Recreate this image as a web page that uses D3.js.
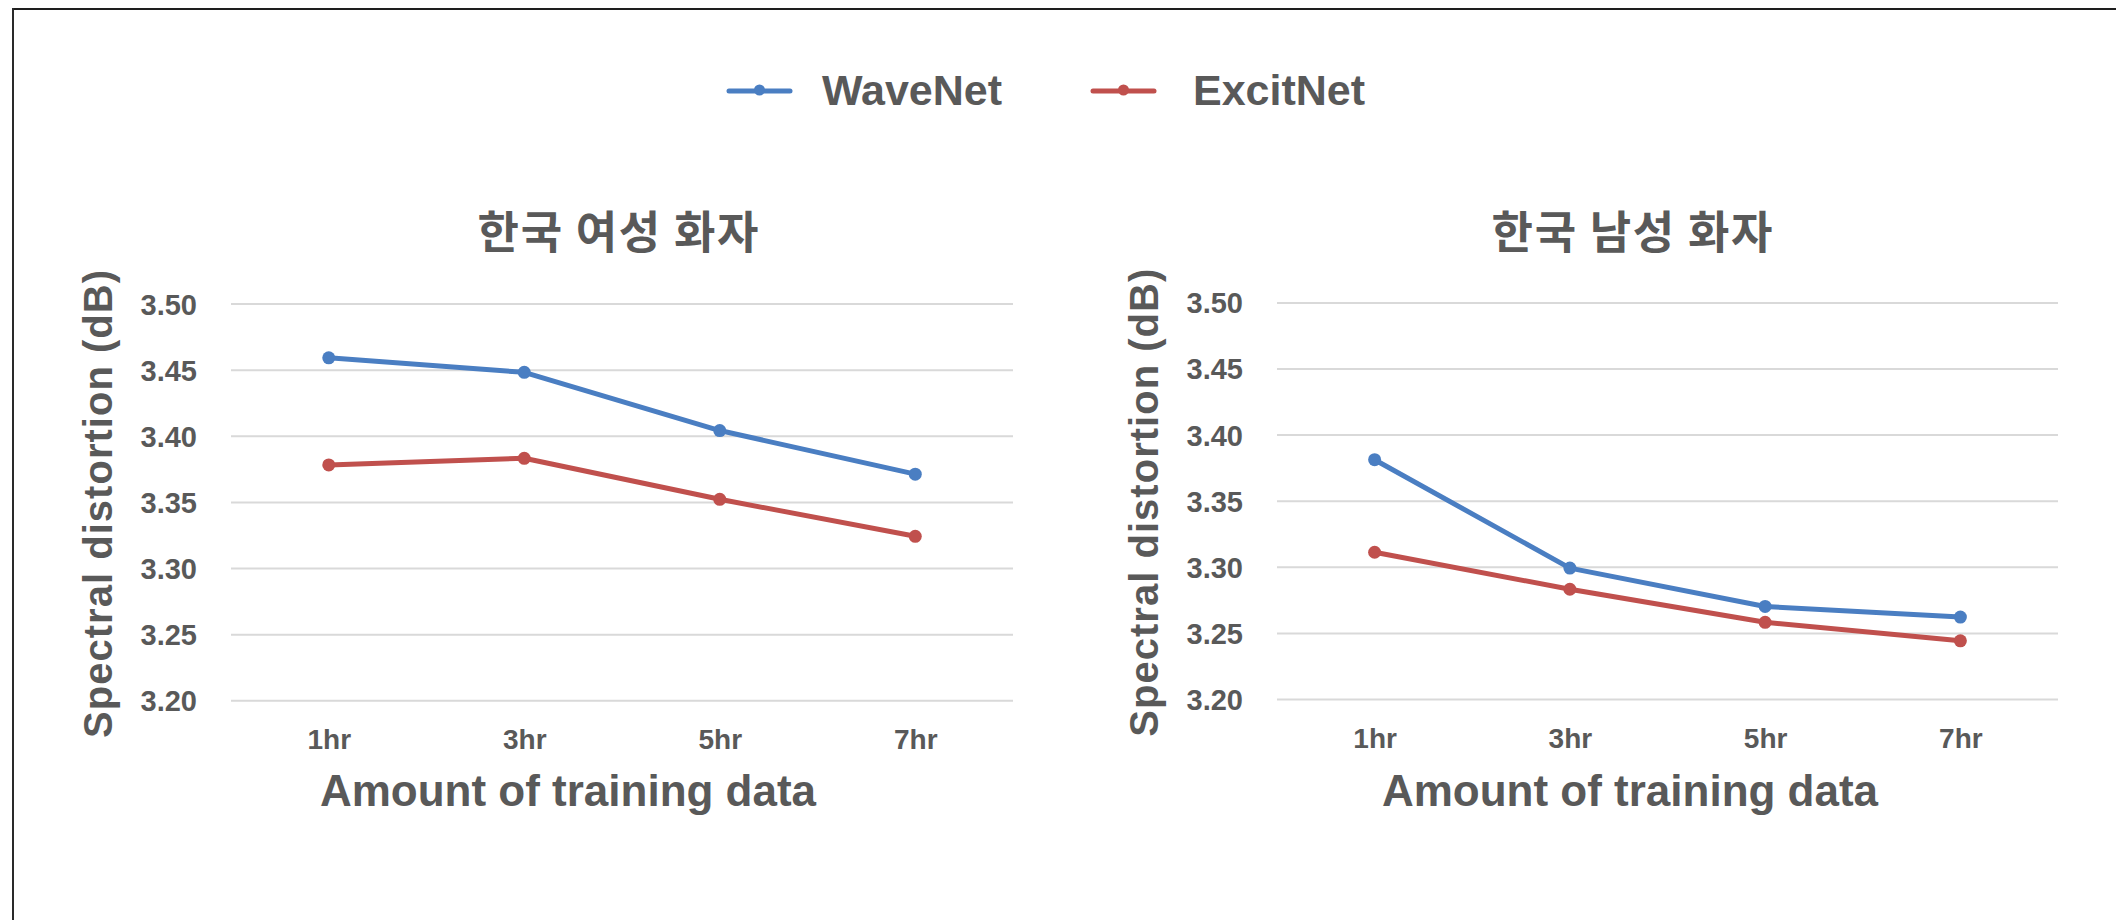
<!DOCTYPE html>
<html>
<head>
<meta charset="utf-8">
<script src="https://cdn.jsdelivr.net/npm/d3@7"></script>
<style>
  html, body { margin: 0; padding: 0; background: #fff; }
  svg { display: block; }
  text { font-family: "Liberation Sans", Arial, sans-serif; font-weight: bold; fill: #595959; }
  .kr { font-family: "Noto Sans CJK KR", "Noto Sans", sans-serif; }
</style>
</head>
<body>
<svg id="chart" width="2116" height="920"></svg>
<script>
// Training-data amounts on the x axis
const categories = ["1hr", "3hr", "5hr", "7hr"];

// Spectral distortion (dB), Korean female speaker
const femaleWaveNet  = [3.459, 3.448, 3.404, 3.371];
const femaleExcitNet = [3.378, 3.383, 3.352, 3.324];

// Spectral distortion (dB), Korean male speaker
const maleWaveNet  = [3.381, 3.299, 3.270, 3.262];
const maleExcitNet = [3.311, 3.283, 3.258, 3.244];

// Y axis ticks
const yTicks = [3.20, 3.25, 3.30, 3.35, 3.40, 3.45, 3.50];
const yDomain = [3.20, 3.50];

const seriesNames = ["WaveNet", "ExcitNet"];
const seriesColors = ["#4A7EC2", "#C0504D"];

const panelTitles = ["한국 여성 화자", "한국 남성 화자"];
const xTitle = "Amount of training data";
const yTitle = "Spectral distortion (dB)";

const svg = d3.select("#chart");

// Frame lines along the top and left edges
svg.append("line").attr("x1", 12).attr("x2", 2116).attr("y1", 9).attr("y2", 9)
  .attr("stroke", "#1e1e1e").attr("stroke-width", 2);
svg.append("line").attr("x1", 13).attr("x2", 13).attr("y1", 8).attr("y2", 920)
  .attr("stroke", "#2a2a2a").attr("stroke-width", 2);

// Two panels, each with its own plot box
const panels = [
  { title: panelTitles[0], left: 231, right: 1013, top: 303.6, bottom: 700.3,
    titleX: 618, xTitleX: 568,
    series: [femaleWaveNet, femaleExcitNet] },
  { title: panelTitles[1], left: 1277, right: 2058, top: 302.4, bottom: 699,
    titleX: 1632, xTitleX: 1630,
    series: [maleWaveNet, maleExcitNet] }
];

panels.forEach(p => {
  const g = svg.append("g");
  const x = d3.scalePoint().domain(categories).range([p.left, p.right]).padding(0.5);
  const y = d3.scaleLinear().domain(yDomain).range([p.bottom, p.top]);

  // Horizontal gridlines
  const yAxis = d3.axisLeft(y).tickValues(yTicks).tickFormat(d3.format(".2f"))
    .tickSize(-(p.right - p.left)).tickPadding(34);
  const ya = g.append("g").attr("transform", `translate(${p.left},0)`).call(yAxis);
  ya.select(".domain").remove();
  ya.selectAll(".tick line").attr("stroke", "#D9D9D9").attr("stroke-width", 2);
  ya.selectAll(".tick text").attr("font-size", 29).attr("fill", "#595959")
    .style("font-family", "'Liberation Sans', Arial, sans-serif").style("font-weight", "bold")
    .attr("dy", "0.36em");

  // Category labels
  const xAxis = d3.axisBottom(x).tickSize(0).tickPadding(0);
  const xa = g.append("g").attr("transform", `translate(0,${p.bottom})`).call(xAxis);
  xa.select(".domain").remove();
  xa.selectAll(".tick text").attr("font-size", 28).attr("fill", "#595959")
    .style("font-family", "'Liberation Sans', Arial, sans-serif").style("font-weight", "bold")
    .attr("y", 49).attr("dy", 0);

  // Panel title
  g.append("text").attr("class", "kr")
    .attr("x", p.titleX).attr("y", 229)
    .attr("text-anchor", "middle").attr("dominant-baseline", "central")
    .attr("font-size", 45).attr("textLength", 281).attr("lengthAdjust", "spacing")
    .text(p.title);

  // Axis titles
  g.append("text").attr("x", p.xTitleX).attr("y", 806)
    .attr("text-anchor", "middle").attr("font-size", 44).text(xTitle);

  const yc = (p.top + p.bottom) / 2 + 2;
  g.append("text")
    .attr("transform", `translate(${p.left - 119.5},${yc}) rotate(-90)`)
    .attr("text-anchor", "middle").attr("font-size", 40)
    .attr("textLength", 468).attr("lengthAdjust", "spacing")
    .text(yTitle);

  // Lines with markers
  const line = d3.line().x((d, i) => x(categories[i])).y(d => y(d));
  p.series.forEach((vals, si) => {
    g.append("path").datum(vals)
      .attr("d", line).attr("fill", "none")
      .attr("stroke", seriesColors[si]).attr("stroke-width", 5)
      .attr("stroke-linejoin", "round").attr("stroke-linecap", "round");
    g.selectAll(null).data(vals).enter().append("circle")
      .attr("cx", (d, i) => x(categories[i])).attr("cy", d => y(d))
      .attr("r", 6.5).attr("fill", seriesColors[si]);
  });
});

// Legend
const legendItems = [
  { name: seriesNames[0], color: seriesColors[0], x1: 729, x2: 790, tx: 822 },
  { name: seriesNames[1], color: seriesColors[1], x1: 1093, x2: 1154, tx: 1193 }
];
const lg = svg.append("g");
legendItems.forEach(it => {
  lg.append("line").attr("x1", it.x1).attr("x2", it.x2).attr("y1", 91).attr("y2", 91)
    .attr("stroke", it.color).attr("stroke-width", 5).attr("stroke-linecap", "round");
  lg.append("circle").attr("cx", (it.x1 + it.x2) / 2).attr("cy", 90).attr("r", 5.5).attr("fill", it.color);
  lg.append("text").attr("x", it.tx).attr("y", 105).attr("font-size", 43).text(it.name);
});
</script>
</body>
</html>
